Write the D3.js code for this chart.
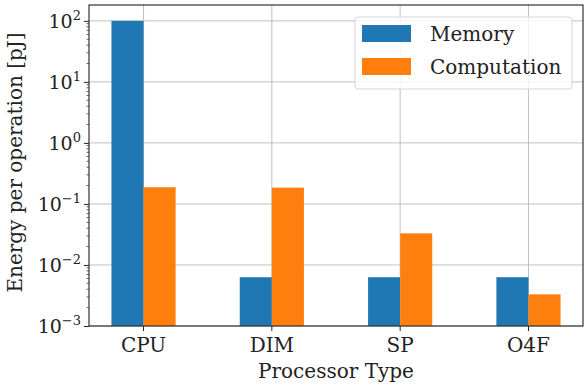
<!DOCTYPE html>
<html>
<head>
<meta charset="utf-8">
<script src="https://cdn.jsdelivr.net/npm/d3@7"></script>
<style>
  body { margin: 0; background: #fff; }
  text { font-family: "DejaVu Serif", "Liberation Serif", serif; fill: #222; }
</style>
</head>
<body>
<div id="chart"></div>
<script>
// data
var categories = ["CPU", "DIM", "SP", "O4F"];
var memory = [100, 0.0063, 0.0063, 0.0063];
var computation = [0.188, 0.185, 0.033, 0.0033];
var seriesNames = ["Memory", "Computation"];
var colors = ["#1f77b4", "#ff7f0e"];
var yTicks = [1e-3, 1e-2, 1e-1, 1e0, 1e1, 1e2];
var yTickExp = ["\u22123", "\u22122", "\u22121", "0", "1", "2"];

var W = 587, H = 387;
var margin = {top: 5, right: 4, bottom: 61, left: 89},
    width = W - margin.left - margin.right,
    height = H - margin.top - margin.bottom;

var svg = d3.select("#chart").append("svg")
    .attr("width", W).attr("height", H)
  .append("g")
    .attr("transform", "translate(" + margin.left + "," + margin.top + ")");

// x in bar units, categories at 0..n-1
var x = d3.scaleLinear().domain([-0.425, categories.length - 1 + 0.425]).range([0, width]);
var y = d3.scaleLog().domain([1e-3, Math.pow(10, 2.26)]).range([height, 0]);
var barW = 0.25;

// grid
svg.append("g").selectAll("line").data(yTicks).enter().append("line")
  .attr("x1", 0).attr("x2", width)
  .attr("y1", function(d) { return y(d); }).attr("y2", function(d) { return y(d); })
  .attr("stroke", "#b0b0b0").attr("stroke-width", 0.8);
svg.append("g").selectAll("line").data(categories).enter().append("line")
  .attr("x1", function(d, i) { return x(i); }).attr("x2", function(d, i) { return x(i); })
  .attr("y1", 0).attr("y2", height)
  .attr("stroke", "#b0b0b0").attr("stroke-width", 0.8);

// bars
var series = [memory, computation];
series.forEach(function(vals, s) {
  svg.append("g").selectAll("rect").data(vals).enter().append("rect")
    .attr("x", function(d, i) { return x(i + (s - 1) * barW); })
    .attr("width", x(barW) - x(0))
    .attr("y", function(d) { return y(d); })
    .attr("height", function(d) { return height - y(d); })
    .attr("fill", colors[s]);
});

// y axis
var yAxis = d3.axisLeft(y).tickValues(yTicks).tickFormat("").tickSize(5);
var gy = svg.append("g").call(yAxis);
gy.select(".domain").remove();
gy.selectAll(".tick line").attr("stroke", "#222").attr("stroke-width", 1);
// minor ticks
var minor = [];
for (var e = -3; e <= 2; e++) for (var m = 2; m <= 9; m++) {
  var v = m * Math.pow(10, e);
  if (v <= y.domain()[1]) minor.push(v);
}
svg.append("g").selectAll("line").data(minor).enter().append("line")
  .attr("x1", -2.5).attr("x2", 0)
  .attr("y1", function(d) { return y(d); }).attr("y2", function(d) { return y(d); })
  .attr("stroke", "#222").attr("stroke-width", 0.7);
// labels 10^n
var lab = svg.append("g").selectAll("text").data(yTicks).enter().append("text")
  .attr("x", -8).attr("y", function(d) { return y(d) + 7; })
  .attr("text-anchor", "end").style("font-size", "19px");
lab.append("tspan").text("10");
lab.append("tspan").attr("dy", -8).style("font-size", "13px")
  .text(function(d, i) { return yTickExp[i]; });

// x axis
svg.append("g").selectAll("line").data(categories).enter().append("line")
  .attr("x1", function(d, i) { return x(i); }).attr("x2", function(d, i) { return x(i); })
  .attr("y1", height).attr("y2", height + 5)
  .attr("stroke", "#222");
svg.append("g").selectAll("text").data(categories).enter().append("text")
  .attr("x", function(d, i) { return x(i); }).attr("y", height + 26)
  .attr("text-anchor", "middle").style("font-size", "20px")
  .text(function(d) { return d; });

// frame
svg.append("rect").attr("width", width).attr("height", height)
  .attr("fill", "none").attr("stroke", "#333").attr("stroke-width", 1.2);

// axis titles
svg.append("text").attr("x", width / 2).attr("y", height + 52)
  .attr("text-anchor", "middle").style("font-size", "20px").text("Processor Type");
svg.append("text").attr("transform", "translate(" + (-67) + "," + (height / 2 - 3) + ") rotate(-90)")
  .attr("text-anchor", "middle").style("font-size", "20px").text("Energy per operation [pJ]");

// legend
var lg = svg.append("g").attr("transform", "translate(" + (355 - margin.left) + "," + (17 - margin.top) + ")");
lg.append("rect").attr("width", 217).attr("height", 72).attr("rx", 3)
  .attr("fill", "#fff").attr("fill-opacity", 0.8).attr("stroke", "#d5d5d5");
seriesNames.forEach(function(n, i) {
  lg.append("rect").attr("x", 7).attr("y", 8 + i * 33).attr("width", 49).attr("height", 17)
    .attr("fill", colors[i]);
  lg.append("text").attr("x", 75).attr("y", 24 + i * 33).style("font-size", "20px").text(n);
});
</script>
</body>
</html>
